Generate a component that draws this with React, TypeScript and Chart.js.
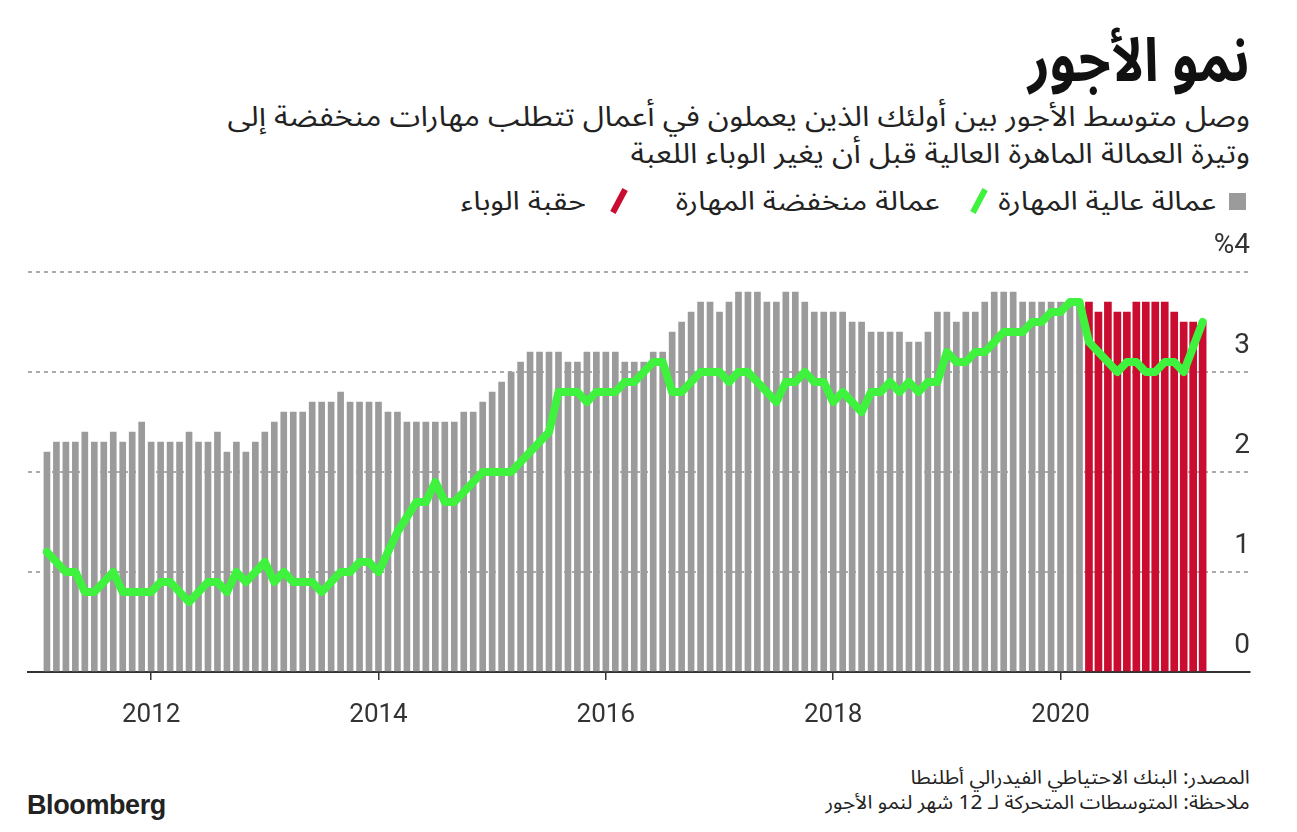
import React, { useEffect, useRef } from 'react';
import { Chart, registerables } from 'chart.js';

Chart.register(...registerables);

// The axis runs monthly from Dec 2010 to Sep 2021; data start Feb 2011
const AXIS_START_YEAR = 2010;
const AXIS_START_MONTH = 12;
const AXIS_MONTH_COUNT = 130;
const DATA_START = '2011-02';

// High-skill workers (grey bars), Feb 2011 – Mar 2020
const highSkillPre = [
  2.2, 2.3, 2.3, 2.3, 2.4, 2.3, 2.3, 2.4, 2.3, 2.4, 2.5,
  2.3, 2.3, 2.3, 2.3, 2.4, 2.3, 2.3, 2.4, 2.2, 2.3, 2.2, 2.3, 2.4,
  2.5, 2.6, 2.6, 2.6, 2.7, 2.7, 2.7, 2.8, 2.7, 2.7, 2.7, 2.7,
  2.6, 2.6, 2.5, 2.5, 2.5, 2.5, 2.5, 2.5, 2.6, 2.6, 2.7, 2.8,
  2.9, 3.0, 3.1, 3.2, 3.2, 3.2, 3.2, 3.1, 3.1, 3.2, 3.2, 3.2,
  3.2, 3.1, 3.1, 3.1, 3.2, 3.2, 3.4, 3.5, 3.6, 3.7, 3.7, 3.6,
  3.7, 3.8, 3.8, 3.8, 3.7, 3.7, 3.8, 3.8, 3.7, 3.6, 3.6, 3.6,
  3.6, 3.5, 3.5, 3.4, 3.4, 3.4, 3.4, 3.3, 3.3, 3.4, 3.6, 3.6,
  3.5, 3.6, 3.6, 3.7, 3.8, 3.8, 3.8, 3.7, 3.7, 3.7, 3.7, 3.7,
  3.7, 3.7,
];

// High-skill workers during the pandemic era (red bars), Apr 2020 – Apr 2021
const highSkillPandemic = [3.7, 3.6, 3.7, 3.6, 3.6, 3.7, 3.7, 3.7, 3.7, 3.6, 3.5, 3.5, 3.5];

// Low-skill workers (green line), Feb 2011 – Apr 2021
const lowSkill = [
  1.2, 1.1, 1.0, 1.0, 0.8, 0.8, 0.9, 1.0, 0.8, 0.8, 0.8,
  0.8, 0.9, 0.9, 0.8, 0.7, 0.8, 0.9, 0.9, 0.8, 1.0, 0.9, 1.0, 1.1,
  0.9, 1.0, 0.9, 0.9, 0.9, 0.8, 0.9, 1.0, 1.0, 1.1, 1.1, 1.0,
  1.2, 1.4, 1.55, 1.7, 1.7, 1.9, 1.7, 1.7, 1.8, 1.9, 2.0, 2.0,
  2.0, 2.0, 2.1, 2.2, 2.3, 2.4, 2.8, 2.8, 2.8, 2.7, 2.8, 2.8,
  2.8, 2.9, 2.9, 3.0, 3.1, 3.1, 2.8, 2.8, 2.9, 3.0, 3.0, 3.0,
  2.9, 3.0, 3.0, 2.9, 2.8, 2.7, 2.9, 2.9, 3.0, 2.9, 2.9, 2.7,
  2.8, 2.7, 2.6, 2.8, 2.8, 2.9, 2.8, 2.9, 2.8, 2.9, 2.9, 3.2,
  3.1, 3.1, 3.2, 3.2, 3.3, 3.4, 3.4, 3.4, 3.5, 3.5, 3.6, 3.6,
  3.7, 3.7, 3.3, 3.2, 3.1, 3.0, 3.1, 3.1, 3.0, 3.0, 3.1, 3.1,
  3.0, 3.25, 3.5,
];

const xTickLabels = ['2012', '2014', '2016', '2018', '2020'];
const yTickValues = [0, 1, 2, 3, 4];
const yTickLabels = ['0', '1', '2', '3', '%4'];

const GRAY = '#9b9b9b';
const RED = '#c90c2f';
const GREEN = '#3ef23e';
const ARABIC = '"Noto Sans Arabic", "DejaVu Sans", sans-serif';
const NUM_FONT = 'Roboto';

function buildMonths(): string[] {
  const out: string[] = [];
  for (let k = 0; k < AXIS_MONTH_COUNT; k++) {
    const m0 = AXIS_START_MONTH - 1 + k;
    const y = AXIS_START_YEAR + Math.floor(m0 / 12);
    const m = (m0 % 12) + 1;
    out.push(`${y}-${String(m).padStart(2, '0')}`);
  }
  return out;
}

export default function App() {
  const ref = useRef<HTMLCanvasElement>(null);

  useEffect(() => {
    if (!ref.current) return;
    const months = buildMonths();
    const start = months.indexOf(DATA_START);
    const empty = () => months.map(() => null as number | null);

    const pre = empty();
    highSkillPre.forEach((v, i) => (pre[start + i] = v));
    const pan = empty();
    highSkillPandemic.forEach((v, i) => (pan[start + highSkillPre.length + i] = v));
    const low = empty();
    lowSkill.forEach((v, i) => (low[start + i] = v));

    const tickIdx = xTickLabels.map((y) => months.indexOf(`${y}-01`));

    const chart = new Chart(ref.current, {
      type: 'bar',
      data: {
        labels: months,
        datasets: [
          {
            type: 'line',
            data: low,
            borderColor: GREEN,
            borderWidth: 8,
            pointRadius: 0,
            borderJoinStyle: 'round',
            borderCapStyle: 'round',
            tension: 0,
            spanGaps: false,
            order: 0,
          } as any,
          {
            type: 'bar',
            data: pre,
            backgroundColor: GRAY,
            barThickness: 6,
            grouped: false,
            order: 1,
          } as any,
          {
            type: 'bar',
            data: pan,
            backgroundColor: RED,
            barThickness: 7,
            grouped: false,
            order: 1,
          } as any,
        ],
      },
      options: {
        responsive: false,
        animation: false,
        events: [],
        layout: { padding: { top: 52, left: 28, right: 47, bottom: 0 } },
        plugins: { legend: { display: false }, tooltip: { enabled: false }, title: { display: false } },
        scales: {
          x: {
            type: 'category',
            offset: false,
            afterBuildTicks: (s: any) => {
              s.ticks = s.ticks.filter((t: any) => tickIdx.includes(t.value));
            },
            afterFit: (s: any) => {
              s.height = 78;
            },
            ticks: {
              autoSkip: false,
              maxRotation: 0,
              padding: 20,
              color: '#333',
              font: { family: NUM_FONT, size: 26 },
              callback: (v: any) => months[v].slice(0, 4),
            },
            grid: {
              offset: false,
              drawOnChartArea: false,
              drawTicks: true,
              tickLength: 8,
              color: '#333',
              lineWidth: 1.5,
            },
            border: { display: true, color: '#333', width: 2 },
          },
          y: {
            type: 'linear',
            position: 'right',
            min: 0,
            max: 4,
            afterBuildTicks: (s: any) => {
              s.ticks = yTickValues.map((v) => ({ value: v }));
            },
            afterFit: (s: any) => {
              s.width = 0;
            },
            ticks: {
              mirror: true,
              padding: 0,
              labelOffset: -26,
              color: '#333',
              font: { family: NUM_FONT, size: 28 },
              callback: (_v: any, i: number) => yTickLabels[i],
            },
            grid: { color: '#ababab', lineWidth: 2, drawTicks: false },
            border: { display: false, dash: [4, 4] },
          },
        },
      } as any,
    });
    return () => chart.destroy();
  }, []);

  const abs = (style: React.CSSProperties): React.CSSProperties => ({ position: 'absolute', ...style });
  const stretch = (sx: number): React.CSSProperties => ({ transform: `scaleX(${sx})`, transformOrigin: 'right center' });

  const legendRow: React.CSSProperties = {
    position: 'absolute',
    top: 186,
    height: 30,
    display: 'flex',
    alignItems: 'center',
    fontFamily: ARABIC,
    fontSize: 26,
    color: '#222',
    whiteSpace: 'nowrap',
  };

  return (
    <div style={abs({ left: 0, top: 0, width: 1297, height: 832, overflow: 'hidden', background: '#fff' })}>
      <div
        dir="rtl"
        style={abs({ right: 47, top: 22, fontFamily: ARABIC, fontWeight: 700, fontSize: 60, lineHeight: '80px', color: '#111', whiteSpace: 'nowrap', ...stretch(0.88) })}
      >
        نمو الأجور
      </div>
      <div
        dir="rtl"
        style={abs({ right: 47, top: 99, fontFamily: ARABIC, fontSize: 28, lineHeight: '37px', color: '#222', whiteSpace: 'nowrap', textAlign: 'right', ...stretch(1.115) })}
      >
        وصل متوسط الأجور بين أولئك الذين يعملون في أعمال تتطلب مهارات منخفضة إلى
        <br />
        وتيرة العمالة الماهرة العالية قبل أن يغير الوباء اللعبة
      </div>

      {/* Legend */}
      <div dir="rtl" style={{ ...legendRow, right: 51 }}>
        <span style={{ display: 'inline-block', width: 17, height: 17, background: GRAY, marginLeft: 13 }} />
        <span style={{ display: 'inline-block', ...stretch(1.17) }}>عمالة عالية المهارة</span>
      </div>
      <div dir="rtl" style={{ ...legendRow, right: 315 }}>
        <span style={{ display: 'inline-block', width: 6, height: 26, background: GREEN, transform: 'rotate(28deg)', marginLeft: 36 }} />
        <span style={{ display: 'inline-block', ...stretch(1.17) }}>عمالة منخفضة المهارة</span>
      </div>
      <div dir="rtl" style={{ ...legendRow, right: 675 }}>
        <span style={{ display: 'inline-block', width: 6, height: 26, background: RED, transform: 'rotate(28deg)', marginLeft: 30 }} />
        <span style={{ display: 'inline-block', ...stretch(1.17) }}>حقبة الوباء</span>
      </div>

      <canvas ref={ref} width={1297} height={530} style={abs({ left: 0, top: 220, width: 1297, height: 530 })} />

      {/* Footer */}
      <div
        dir="rtl"
        style={abs({ right: 47, top: 766, fontFamily: ARABIC, fontSize: 19, lineHeight: '25px', color: '#222', whiteSpace: 'nowrap', textAlign: 'right', ...stretch(1.1) })}
      >
        المصدر: البنك الاحتياطي الفيدرالي أطلنطا
        <br />
        ملاحظة: المتوسطات المتحركة لـ 12 شهر لنمو الأجور
      </div>
      <div
        style={abs({ left: 27, top: 792, fontFamily: '"Liberation Sans", Arial, sans-serif', fontWeight: 700, fontSize: 27, lineHeight: '27px', letterSpacing: -0.4, color: '#222' })}
      >
        Bloomberg
      </div>
    </div>
  );
}
